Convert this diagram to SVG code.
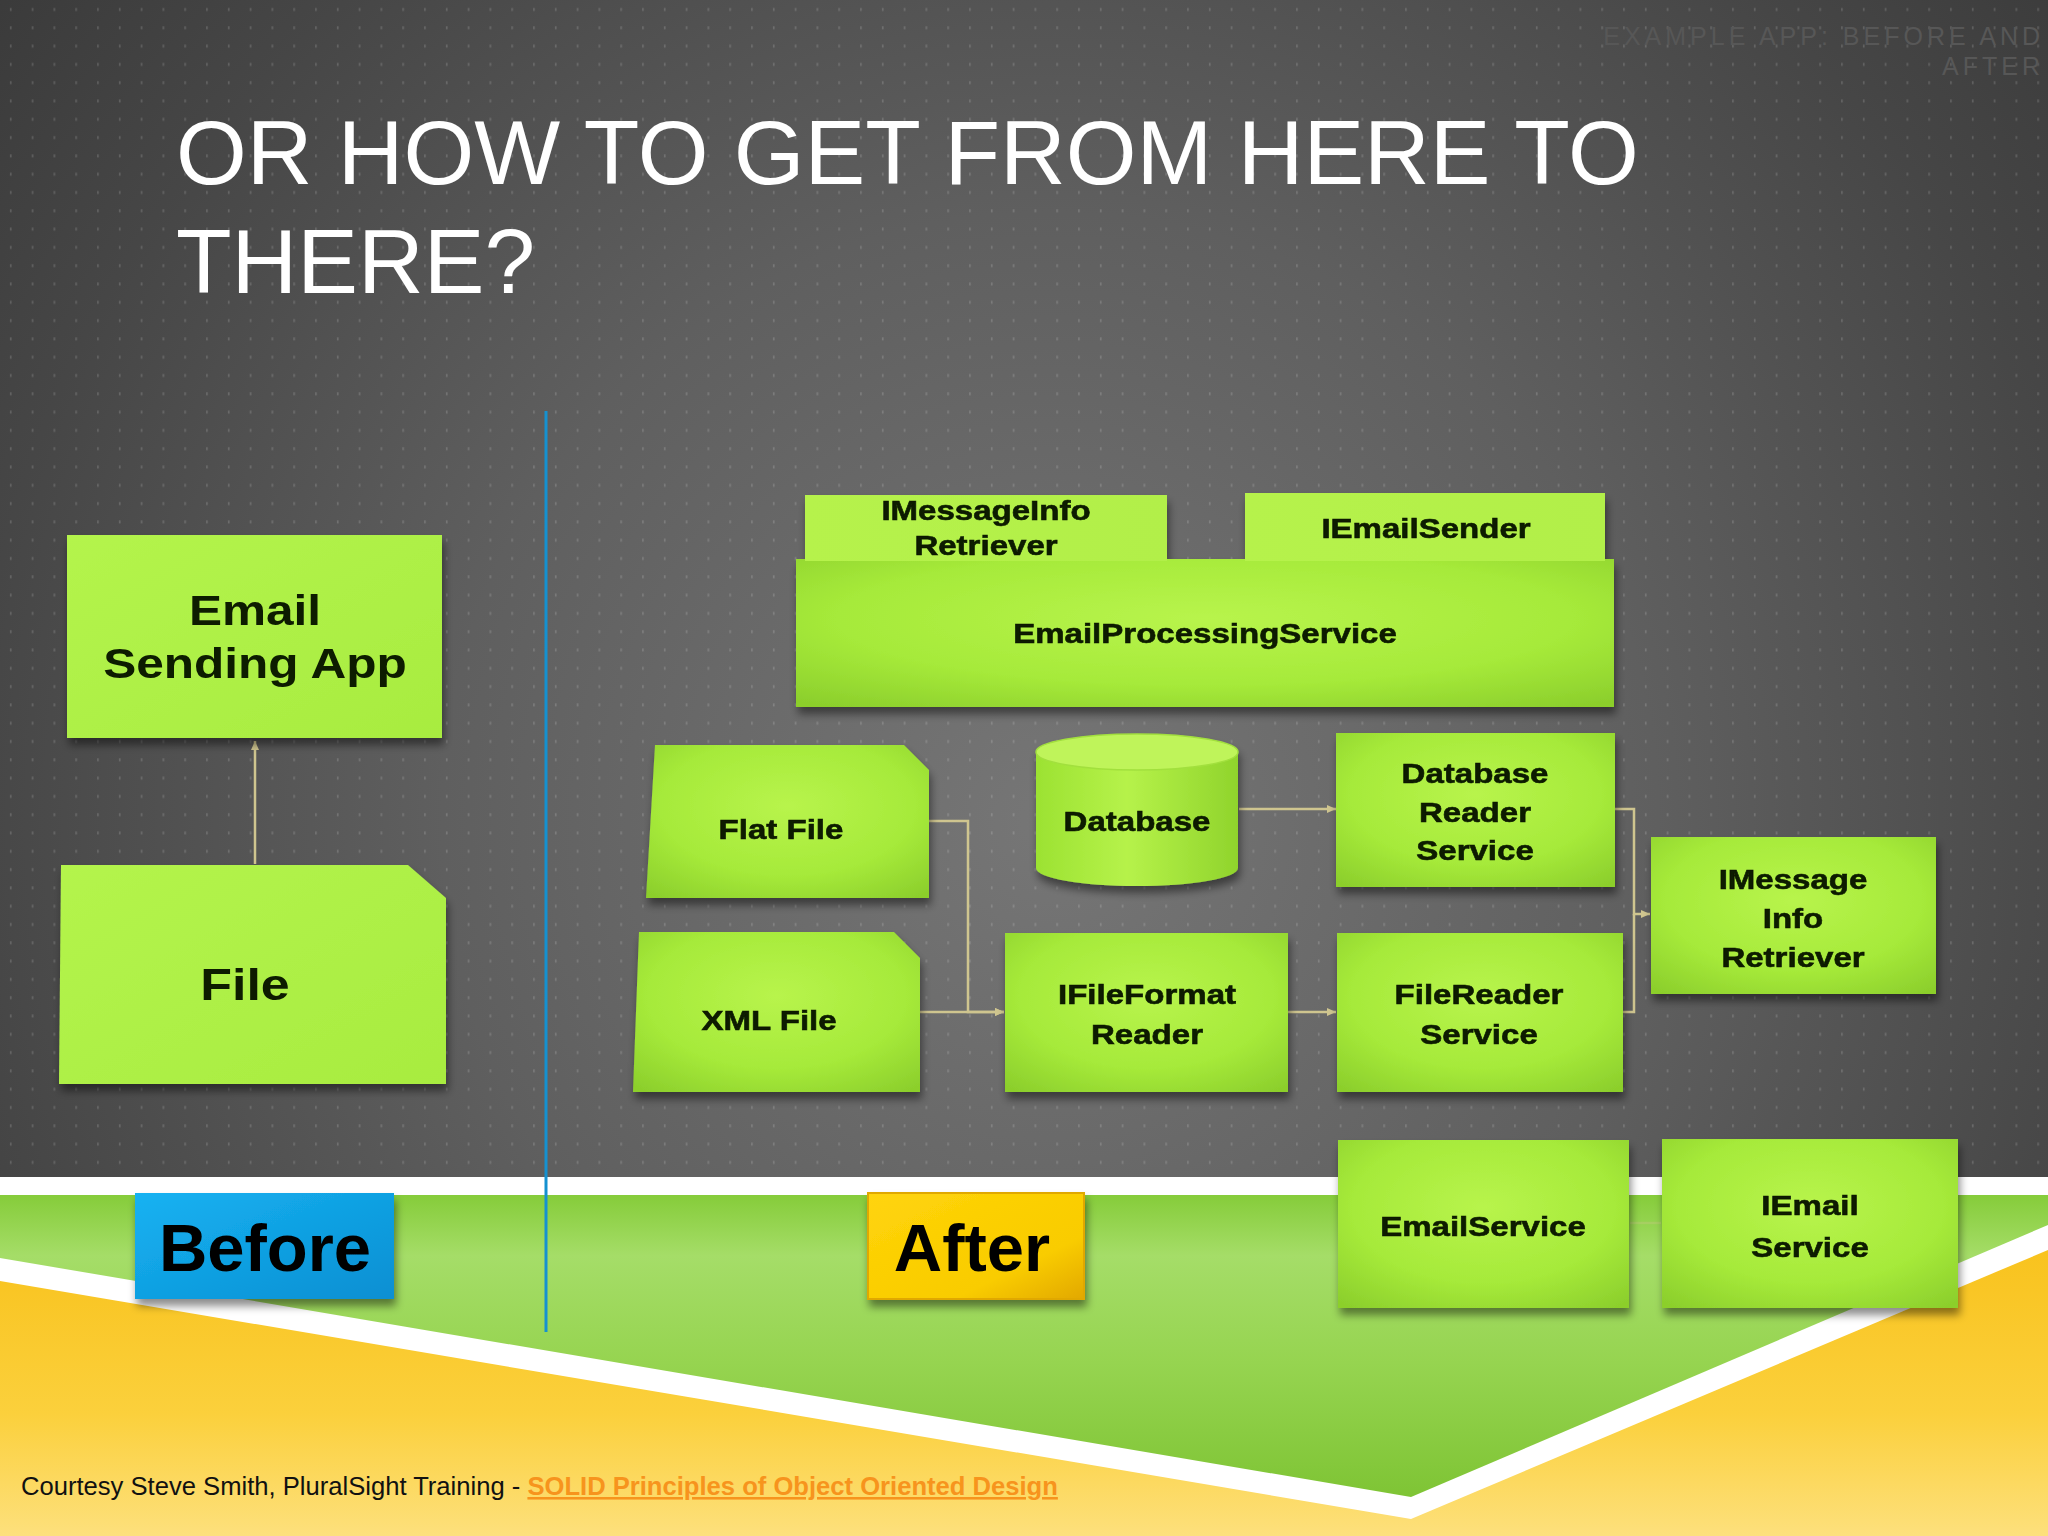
<svg xmlns="http://www.w3.org/2000/svg" width="2048" height="1536" viewBox="0 0 2048 1536">
<defs>
  <radialGradient id="bgGrad" cx="1050" cy="820" r="1350" gradientUnits="userSpaceOnUse">
    <stop offset="0" stop-color="#767676"/>
    <stop offset="0.45" stop-color="#5f5f5f"/>
    <stop offset="0.8" stop-color="#464646"/>
    <stop offset="1" stop-color="#3a3a3a"/>
  </radialGradient>
  <pattern id="dots" width="21.8" height="18.3" patternUnits="userSpaceOnUse">
    <rect x="10" y="8" width="1.5" height="3" fill="#ffffff" opacity="0.18"/>
  </pattern>
  <linearGradient id="greenBand" x1="0" y1="1195" x2="0" y2="1500" gradientUnits="userSpaceOnUse">
    <stop offset="0" stop-color="#86cc3a"/>
    <stop offset="0.2" stop-color="#a5dd68"/>
    <stop offset="0.55" stop-color="#96d450"/>
    <stop offset="1" stop-color="#7ec434"/>
  </linearGradient>
  <linearGradient id="yellowBand" x1="0" y1="1230" x2="0" y2="1536" gradientUnits="userSpaceOnUse">
    <stop offset="0" stop-color="#f8c11a"/>
    <stop offset="0.6" stop-color="#fbd03c"/>
    <stop offset="1" stop-color="#fde07c"/>
  </linearGradient>
  <radialGradient id="lime" cx="0.5" cy="0.4" r="0.75">
    <stop offset="0" stop-color="#b8f44c"/>
    <stop offset="0.6" stop-color="#a6ea3a"/>
    <stop offset="1" stop-color="#8ccf2c"/>
  </radialGradient>
  <linearGradient id="limeFlat" x1="0" y1="0" x2="1" y2="1">
    <stop offset="0" stop-color="#b4f44c"/>
    <stop offset="1" stop-color="#a8ec40"/>
  </linearGradient>
  <linearGradient id="tabFill" x1="0" y1="0" x2="1" y2="0">
    <stop offset="0" stop-color="#b6f24c"/>
    <stop offset="1" stop-color="#b2ef48"/>
  </linearGradient>
  <linearGradient id="cylBody" x1="0" y1="0" x2="1" y2="0">
    <stop offset="0" stop-color="#9ce232"/>
    <stop offset="0.45" stop-color="#b6f24a"/>
    <stop offset="1" stop-color="#90d42c"/>
  </linearGradient>
  <linearGradient id="blueGrad" x1="0" y1="0" x2="1" y2="1">
    <stop offset="0" stop-color="#16b2f2"/>
    <stop offset="1" stop-color="#0a8fd2"/>
  </linearGradient>
  <linearGradient id="goldGrad" x1="0" y1="0" x2="1" y2="1">
    <stop offset="0" stop-color="#ffd40a"/>
    <stop offset="0.7" stop-color="#f9cc00"/>
    <stop offset="1" stop-color="#e2a800"/>
  </linearGradient>
  <filter id="shadow" x="-10%" y="-10%" width="125%" height="135%">
    <feDropShadow dx="2" dy="7" stdDeviation="4" flood-color="#000000" flood-opacity="0.45"/>
  </filter>
  <marker id="arrow" markerWidth="10" markerHeight="10" refX="9" refY="5" orient="auto" markerUnits="userSpaceOnUse">
    <path d="M0,1 L9,5 L0,9 Z" fill="#cfc58f"/>
  </marker>
</defs>
<style>
  .node { fill: url(#lime); }
  .flat { fill: url(#limeFlat); }
  .t { font-family: "Liberation Sans", Arial, sans-serif; font-weight: bold; font-size: 28px; fill: #0b1a00; stroke: #0b1a00; stroke-width: 0.6px; text-anchor: middle; }
  .tl { font-family: "Liberation Sans", Arial, sans-serif; font-weight: bold; font-size: 42px; fill: #0b1a00; text-anchor: middle; }
  .conn { fill: none; stroke: #cfc58f; stroke-width: 2.5; }
  .title { font-family: "Liberation Sans", Arial, sans-serif; font-size: 91px; fill: #ffffff; }
  .wm { font-family: "Liberation Sans", Arial, sans-serif; font-size: 25px; fill: #575757; letter-spacing: 4px; text-anchor: end; }
  .lbl { font-family: "Liberation Sans", Arial, sans-serif; font-weight: bold; font-size: 67px; fill: #000000; text-anchor: middle; }
  .foot { font-family: "Liberation Sans", Arial, sans-serif; font-size: 25.6px; fill: #111111; }
  .link { font-weight: bold; fill: #f7941d; text-decoration: underline; }
</style>

<!-- background -->
<rect x="0" y="0" width="2048" height="1180" fill="url(#bgGrad)"/>
<rect x="0" y="0" width="2048" height="1180" fill="url(#dots)"/>

<!-- bottom bands -->
<rect x="0" y="1177" width="2048" height="359" fill="url(#yellowBand)"/>
<path d="M0,1177 H2048 V1250 L1411,1519 L0,1281 Z" fill="#ffffff"/>
<path d="M0,1195 H2048 V1225 L1411,1497 L0,1258 Z" fill="url(#greenBand)"/>

<!-- title and watermark -->
<text class="wm" x="2044" y="45">EXAMPLE APP: BEFORE AND</text>
<text class="wm" x="2044" y="75">AFTER</text>
<text class="title" x="176" y="184">OR HOW TO GET FROM HERE TO</text>
<text class="title" x="176" y="293">THERE?</text>

<!-- divider -->
<line x1="546" y1="411" x2="546" y2="1332" stroke="#1591d0" stroke-width="3"/>

<!-- connectors -->
<g id="connectors">
  <path class="conn" d="M255,864 V741" marker-end="url(#arrow)"/>
  <path class="conn" d="M929,821 H968 V1012 H1004" marker-end="url(#arrow)"/>
  <path class="conn" d="M920,1012 H1004" marker-end="url(#arrow)"/>
  <path class="conn" d="M1239,809 H1336" marker-end="url(#arrow)"/>
  <path class="conn" d="M1288,1012 H1336" marker-end="url(#arrow)"/>
  <path class="conn" d="M1615,809 H1634 V914 H1650" marker-end="url(#arrow)"/>
  <path class="conn" d="M1623,1012 H1634 V914"/>
  <path class="conn" d="M1630,1223 H1661" opacity="0.3"/>
</g>

<!-- Before diagram -->
<g id="email-sending-app" filter="url(#shadow)">
  <rect class="flat" x="67" y="535" width="375" height="203"/>
  <text class="tl" transform="translate(255 625) scale(1.18 1)">Email</text>
  <text class="tl" transform="translate(255 678) scale(1.18 1)">Sending App</text>
</g>
<g id="file" filter="url(#shadow)">
  <path class="flat" d="M61,865 H408 L446,898 V1084 H59 Z"/>
  <text class="tl" style="font-size:44px" transform="translate(245 1000) scale(1.18 1)">File</text>
</g>

<!-- After diagram -->
<g id="email-processing-service" filter="url(#shadow)">
  <rect class="node" x="796" y="559" width="818" height="148"/>
  <rect fill="url(#tabFill)" x="805" y="495" width="362" height="66"/>
  <rect fill="url(#tabFill)" x="1245" y="493" width="360" height="68"/>
  <text class="t" transform="translate(986 520) scale(1.18 1)">IMessageInfo</text>
  <text class="t" transform="translate(986 555) scale(1.18 1)">Retriever</text>
  <text class="t" transform="translate(1426 538) scale(1.18 1)">IEmailSender</text>
  <text class="t" transform="translate(1205 643) scale(1.18 1)">EmailProcessingService</text>
</g>

<g id="flat-file" filter="url(#shadow)">
  <path class="node" d="M655,745 H904 L929,770 V898 H646 Z"/>
  <text class="t" transform="translate(781 839) scale(1.18 1)">Flat File</text>
</g>

<g id="database" filter="url(#shadow)">
  <path fill="url(#cylBody)" d="M1036,752 V868 A101,18 0 0 0 1238,868 V752 Z"/>
  <ellipse cx="1137" cy="752" rx="101" ry="18" fill="#bff45a" stroke="#a2e03e" stroke-width="1.5"/>
  <text class="t" transform="translate(1137 831) scale(1.18 1)">Database</text>
</g>

<g id="database-reader-service" filter="url(#shadow)">
  <rect class="node" x="1336" y="733" width="279" height="154"/>
  <text class="t" transform="translate(1475 783) scale(1.18 1)">Database</text>
  <text class="t" transform="translate(1475 822) scale(1.18 1)">Reader</text>
  <text class="t" transform="translate(1475 860) scale(1.18 1)">Service</text>
</g>

<g id="xml-file" filter="url(#shadow)">
  <path class="node" d="M639,932 H894 L920,958 V1092 H633 Z"/>
  <text class="t" transform="translate(769 1030) scale(1.18 1)">XML File</text>
</g>

<g id="ifileformat-reader" filter="url(#shadow)">
  <rect class="node" x="1005" y="933" width="283" height="159"/>
  <text class="t" transform="translate(1147 1004) scale(1.18 1)">IFileFormat</text>
  <text class="t" transform="translate(1147 1044) scale(1.18 1)">Reader</text>
</g>

<g id="filereader-service" filter="url(#shadow)">
  <rect class="node" x="1337" y="933" width="286" height="159"/>
  <text class="t" transform="translate(1479 1004) scale(1.18 1)">FileReader</text>
  <text class="t" transform="translate(1479 1044) scale(1.18 1)">Service</text>
</g>

<g id="imessage-info-retriever" filter="url(#shadow)">
  <rect class="node" x="1651" y="837" width="285" height="157"/>
  <text class="t" transform="translate(1793 889) scale(1.18 1)">IMessage</text>
  <text class="t" transform="translate(1793 928) scale(1.18 1)">Info</text>
  <text class="t" transform="translate(1793 967) scale(1.18 1)">Retriever</text>
</g>

<g id="email-service" filter="url(#shadow)">
  <rect class="node" x="1338" y="1140" width="291" height="168"/>
  <text class="t" transform="translate(1483 1236) scale(1.18 1)">EmailService</text>
</g>

<g id="iemail-service" filter="url(#shadow)">
  <rect class="node" x="1662" y="1139" width="296" height="169"/>
  <text class="t" transform="translate(1810 1215) scale(1.18 1)">IEmail</text>
  <text class="t" transform="translate(1810 1257) scale(1.18 1)">Service</text>
</g>

<!-- labels -->
<g id="before-label" filter="url(#shadow)">
  <rect x="135" y="1193" width="259" height="106" fill="url(#blueGrad)"/>
  <text class="lbl" x="265" y="1271">Before</text>
</g>
<g id="after-label" filter="url(#shadow)">
  <rect x="868" y="1193" width="216" height="106" fill="url(#goldGrad)" stroke="#e0a800" stroke-width="2"/>
  <text class="lbl" x="972" y="1271">After</text>
</g>

<!-- footer -->
<text class="foot" x="21" y="1495">Courtesy Steve Smith, PluralSight Training - <tspan class="link">SOLID Principles of Object Oriented Design</tspan></text>
</svg>
